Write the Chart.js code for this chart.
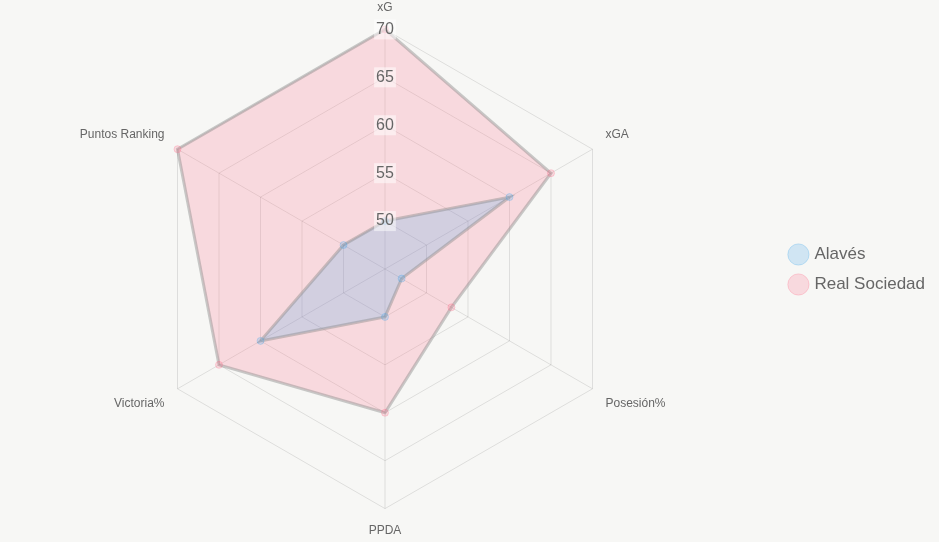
<!DOCTYPE html>
<html>
<head>
<meta charset="utf-8">
<script src="https://cdn.jsdelivr.net/npm/chart.js@4"></script>
<style>
    html, body { margin: 0; padding: 0; background: #f7f7f5; overflow: hidden; }
    #wrap { width: 945px; height: 542px; margin-left: -6px; }
</style>
</head>
<body>
<div id="wrap"><canvas id="radarChart"></canvas></div>
<script>
// Ejes del radar y valores por equipo
var categories = ["xG", "xGA", "Posesión%", "PPDA", "Victoria%", "Puntos Ranking"];
var alavesValues = [50, 60, 47, 50, 60, 50];
var realSociedadValues = [70, 65, 53, 60, 65, 70];
// 45 es el centro y no se dibuja
var tickValues = [45, 50, 55, 60, 65, 70];

function createDataset(label, values, fill, point) {
    return {
        label: label,
        data: values,
        backgroundColor: fill,
        borderColor: "rgba(140, 140, 140, 0.45)",
        borderWidth: 3,
        pointBackgroundColor: fill,
        pointBorderColor: point,
        pointBorderWidth: 1,
        pointRadius: 3.5
    };
}

new Chart(document.getElementById("radarChart"), {
    type: "radar",
    data: {
        labels: categories,
        datasets: [
            createDataset("Alavés", alavesValues, "rgba(54, 162, 235, 0.2)", "rgba(54, 162, 235, 0.25)"),
            createDataset("Real Sociedad", realSociedadValues, "rgba(255, 99, 132, 0.2)", "rgba(255, 99, 132, 0.25)")
        ]
    },
    options: {
        responsive: true,
        maintainAspectRatio: false,
        animation: false,
        layout: { padding: { left: 0, right: 4, top: 0, bottom: 3 } },
        plugins: {
            legend: {
                position: "right",
                labels: {
                    usePointStyle: true,
                    pointStyle: "circle",
                    boxWidth: 15,
                    boxHeight: 15,
                    padding: 13,
                    color: "#666",
                    font: { size: 17, family: "Arial, Liberation Sans, sans-serif" }
                }
            },
            tooltip: { enabled: false }
        },
        scales: {
            r: {
                min: 45,
                max: 70,
                afterBuildTicks: function (scale) {
                    scale.ticks = tickValues.map(function (v) { return { value: v }; });
                },
                ticks: {
                    color: "#666",
                    font: { size: 16, family: "Arial, Liberation Sans, sans-serif" },
                    backdropColor: "rgba(255, 255, 255, 0.5)",
                    z: 1
                },
                grid: { color: "rgba(0, 0, 0, 0.1)" },
                angleLines: { color: "rgba(0, 0, 0, 0.1)" },
                pointLabels: {
                    color: "#666",
                    font: { size: 12, family: "Arial, Liberation Sans, sans-serif" }
                }
            }
        }
    }
});
</script>
</body>
</html>
